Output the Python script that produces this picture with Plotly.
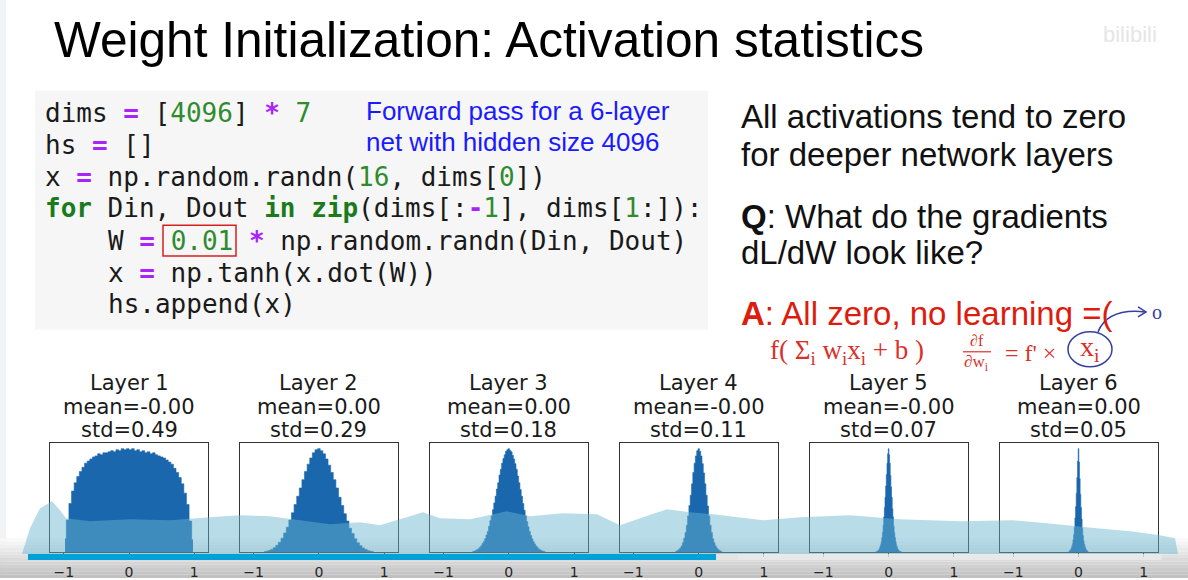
import plotly.graph_objects as go

W_PX, H_PX = 1188, 580

# ---------------- data ----------------
layer_names = ["Layer 1", "Layer 2", "Layer 3", "Layer 4", "Layer 5", "Layer 6"]
layer_means = ["-0.00", "0.00", "0.00", "-0.00", "-0.00", "0.00"]
layer_stds = ["0.49", "0.29", "0.18", "0.11", "0.07", "0.05"]
tick_vals = [-1, 0, 1]
tick_text = ["\u22121", "0", "1"]

# histogram bin centres / heights (relative, tallest bin = 100)
l1_centers = [round(-0.98 + 0.04 * i, 2) for i in range(50)]
l1_heights = [13, 31, 47, 59, 67, 73, 78, 82, 86, 88, 90, 92, 93, 95, 94, 96, 96, 97, 98, 97,
              99, 98, 100, 99, 100, 99, 100, 98, 99, 97, 98, 96, 97, 95, 96, 94, 93, 92, 91, 89,
              87, 85, 81, 77, 72, 66, 57, 46, 30, 12]

l2_centers = [round(-0.84 + 0.04 * i, 2) for i in range(43)]
l2_heights = [0.3, 0.8, 1.5, 2.6, 4.2, 6.5, 9.5, 13.5, 18.5, 24, 31, 38, 46, 54, 62, 70, 78, 85,
              91, 96, 99, 100, 98, 95, 90, 84, 77, 70, 62, 53, 45, 37, 30, 23, 18, 13, 9, 6.2,
              4, 2.5, 1.4, 0.7, 0.3]

l3_centers = [round(-0.56 + 0.02 * i, 2) for i in range(57)]
l3_heights = [0.3, 0.6, 1.1, 1.7, 2.4, 3.3, 4.6, 6.1, 8.2, 10.3, 13, 16.5, 20, 25, 30.5, 35, 41,
              47.5, 54, 61, 67, 74.5, 80, 86, 90.5, 94, 97.5, 99, 100, 98.5, 97, 93.5, 90, 85.5,
              80, 73.5, 67, 60.5, 54, 47, 40.5, 35, 29.5, 24.5, 20, 16, 12.8, 10, 7.9, 5.9, 4.4,
              3.1, 2.2, 1.5, 1.0, 0.6, 0.3]

l4_centers = [round(-0.36 + 0.02 * i, 2) for i in range(37)]
l4_heights = [0.4, 0.8, 1.5, 2.5, 4, 6, 9, 13.5, 19, 26, 35, 45, 55, 66, 77, 86, 93, 98, 100,
              97.5, 93, 85.5, 76.5, 66, 55, 44.5, 35, 26, 19, 13, 9, 6, 3.9, 2.4, 1.5, 0.8, 0.4]

l5_centers = [round(-0.20 + 0.01 * i, 2) for i in range(41)]
l5_heights = [0.2, 0.3, 0.5, 0.8, 1.3, 2, 3.2, 5, 7, 10, 14, 19, 26, 34, 43, 53, 64, 75, 86, 95,
              100, 94, 86, 74, 63, 53, 42, 34, 25, 19, 14, 10, 7, 5, 3.1, 2, 1.3, 0.8, 0.5, 0.3, 0.2]

l6_centers = [round(-0.15 + 0.01 * i, 2) for i in range(31)]
l6_heights = [0.4, 0.8, 1.4, 2.3, 3.6, 5.5, 8, 12, 17, 24, 33, 44, 57, 72, 88, 100, 87, 71, 56,
              43, 32, 23, 16, 11, 7.8, 5.3, 3.5, 2.2, 1.3, 0.8, 0.4]

hist_centers = [l1_centers, l2_centers, l3_centers, l4_centers, l5_centers, l6_centers]
hist_heights = [l1_heights, l2_heights, l3_heights, l4_heights, l5_heights, l6_heights]

# ---------------- helpers ----------------
def px(x):
    return x / W_PX


def py(y):
    return 1 - y / H_PX


BAR_COLOR = "#1a67ad"
panel_lefts = [50, 239.9, 429.8, 619.7, 809.6, 999.5]
panel_w = 158
box_top, box_bot = 445, 554

fig = go.Figure()
layout = dict(
    width=W_PX, height=H_PX,
    margin=dict(l=0, r=0, t=0, b=0),
    paper_bgcolor="white",
    plot_bgcolor="rgba(0,0,0,0)",
    showlegend=False,
)

for i in range(6):
    n = "" if i == 0 else str(i + 1)
    # step-filled histogram (each centre is the middle of a flat bin top)
    fig.add_trace(go.Scatter(
        x=hist_centers[i], y=hist_heights[i], mode="lines", line_shape="hvh",
        fill="tozeroy", fillcolor=BAR_COLOR, line=dict(color=BAR_COLOR, width=0.6),
        xaxis="x" + n, yaxis="y" + n, hoverinfo="skip",
    ))
    layout["xaxis" + n] = dict(
        domain=[px(panel_lefts[i]), px(panel_lefts[i] + panel_w)],
        anchor="y" + n, range=[-1.21, 1.21],
        tickvals=tick_vals, ticktext=tick_text, ticks="outside", ticklen=4,
        tickcolor="#333", tickwidth=1, ticklabelstandoff=3,
        tickfont=dict(family="DejaVu Sans", size=14, color="#262626"),
        showline=True, linecolor="#333", linewidth=1, mirror=True,
        showgrid=False, zeroline=False, fixedrange=True,
    )
    layout["yaxis" + n] = dict(
        domain=[py(box_bot), py(box_top)], anchor="x" + n, range=[0, 105],
        showticklabels=False, ticks="", showline=True, linecolor="#333",
        linewidth=1, mirror=True, showgrid=False, zeroline=False, fixedrange=True,
    )

annotations = []


def txt(x, y, text, size, color="#111", family="Liberation Sans", xanchor="left"):
    annotations.append(dict(
        x=px(x), y=py(y), xref="paper", yref="paper", text=text, showarrow=False,
        xanchor=xanchor, yanchor="middle", align="left",
        font=dict(family=family, size=size, color=color),
    ))


# panel titles
for i in range(6):
    cx = panel_lefts[i] + panel_w / 2
    txt(cx, 384, layer_names[i], 21, "#1a1a1a", "DejaVu Sans", "center")
    txt(cx, 408, "mean=" + layer_means[i], 21, "#1a1a1a", "DejaVu Sans", "center")
    txt(cx, 431, "std=" + layer_stds[i], 21, "#1a1a1a", "DejaVu Sans", "center")

# slide title
txt(52, 40, "Weight Initialization: Activation statistics", 49.6, "#000")

# code block
P = lambda s: '<span style="color:#aa22ff"><b>%s</b></span>' % s
G = lambda s: '<span style="color:#2e8b2e">%s</span>' % s
K = lambda s: '<span style="color:#1b7a1b"><b>%s</b></span>' % s
code_lines = [
    (0, "dims " + P("=") + " [" + G("4096") + "] " + P("*") + " " + G("7")),
    (0, "hs " + P("=") + " []"),
    (0, "x " + P("=") + " np.random.randn(" + G("16") + ", dims[" + G("0") + "])"),
    (0, K("for") + " Din, Dout " + K("in") + " " + K("zip") + "(dims[:" + P("-") + G("1")
        + "], dims[" + G("1") + ":]):"),
    (1, "W " + P("=") + " " + G("0.01") + " " + P("*") + " np.random.randn(Din, Dout)"),
    (1, "x " + P("=") + " np.tanh(x.dot(W))"),
    (1, "hs.append(x)"),
]
code_y = [113, 145, 178, 209, 242, 274, 305]
CW = 0.602 * 26
for (ind, line), yy in zip(code_lines, code_y):
    txt(43 + ind * 4 * CW, yy, line, 26, "#1a1a1a", "DejaVu Sans Mono")

txt(364, 111, "Forward pass for a 6-layer", 26, "#1a1aff")
txt(364, 142, "net with hidden size 4096", 26, "#1a1aff")

# right column text
txt(739, 117, "All activations tend to zero", 33, "#111")
txt(739, 155, "for deeper network layers", 33, "#111")
txt(739, 217, "<b>Q</b>: What do the gradients", 33, "#111")
txt(739, 253, "dL/dW look like?", 33, "#111")
txt(739, 315, "<b>A</b>: All zero, no learning =(", 33, "#dd1c0e")

# handwritten notes
HR = "#d9302a"
txt(847, 353, "f( Σ<sub>i</sub> w<sub>i</sub>x<sub>i</sub> + b )", 27, HR, "Liberation Serif", "center")
txt(977, 342, "∂f", 16, HR, "Liberation Serif", "center")
txt(977, 364, "∂w<sub>i</sub>", 17, HR, "Liberation Serif", "center")
txt(1030, 354, "= f' ×", 24, HR, "Liberation Serif", "center")
txt(1090, 350, "x<sub>i</sub>", 28, HR, "Liberation Serif", "center")
txt(1157, 313, "o", 20, "#3340a0", "Liberation Serif", "center")

# faint watermark
txt(1130, 35, "bilibili", 22, "#e6e6e6", "Liberation Sans", "center")

layout["annotations"] = annotations

shapes = []
# slide edge
shapes.append(dict(type="rect", xref="paper", yref="paper", x0=0, x1=px(6), y0=0, y1=1,
                   fillcolor="#f1f3f5", line=dict(width=0), layer="below"))
# code background
shapes.append(dict(type="rect", xref="paper", yref="paper", x0=px(35), x1=px(708),
                   y0=py(331), y1=py(91), fillcolor="#f6f6f6", line=dict(width=0), layer="below"))
# red box around 0.01
shapes.append(dict(type="rect", xref="paper", yref="paper", x0=px(163), x1=px(236),
                   y0=py(257), y1=py(226), line=dict(color="#d62020", width=1.5)))
# fraction bar
shapes.append(dict(type="line", xref="paper", yref="paper", x0=px(963), x1=px(991),
                   y0=py(353), y1=py(353), line=dict(color=HR, width=1.2)))
# blue circle + arrow
shapes.append(dict(type="circle", xref="paper", yref="paper", x0=px(1068), x1=px(1112),
                   y0=py(368), y1=py(333), line=dict(color="#3340a0", width=1.5)))
arrow_path = "M %f %f Q %f %f %f %f" % (px(1098), py(333), px(1108), py(309), px(1145), py(313))
shapes.append(dict(type="path", xref="paper", yref="paper", path=arrow_path,
                   line=dict(color="#3340a0", width=1.5)))
head = "M %f %f L %f %f L %f %f" % (px(1138), py(308), px(1146), py(313), px(1138), py(318))
shapes.append(dict(type="path", xref="paper", yref="paper", path=head,
                   line=dict(color="#3340a0", width=1.5)))

# video-player bottom gradient (screenshot overlay)
n_band = 12
for k in range(n_band):
    y0 = 540 + k * (40 / n_band)
    g = int(255 - 62 * (k + 1) / n_band)
    shapes.append(dict(type="rect", xref="paper", yref="paper", x0=0, x1=1,
                       y0=py(y0 + 40 / n_band), y1=py(y0),
                       fillcolor="rgb(%d,%d,%d)" % (g, g, g), line=dict(width=0), layer="below"))

# translucent wave overlay of the player
wave_pts = [(22, 556), (30, 530), (40, 510), (52, 503), (60, 512), (66, 520), (90, 523),
            (130, 521), (170, 522), (210, 519), (240, 517), (270, 518), (300, 522), (330, 526),
            (360, 524), (380, 527), (410, 518), (423, 514), (440, 520), (470, 521), (507, 513),
            (530, 518), (563, 515), (597, 516), (620, 527), (640, 520), (667, 511), (690, 514),
            (713, 516), (763, 522), (800, 519), (850, 517), (900, 521), (960, 523), (1013, 522),
            (1047, 525), (1097, 530), (1130, 533), (1160, 537), (1175, 540), (1178, 556)]
wpath = "M " + " L ".join("%f %f" % (px(a), py(b)) for a, b in wave_pts) + " Z"
shapes.append(dict(type="path", xref="paper", yref="paper", path=wpath,
                   fillcolor="rgba(104,183,208,0.47)", line=dict(width=0), layer="above"))

# progress bar
shapes.append(dict(type="rect", xref="paper", yref="paper", x0=px(28), x1=px(1162),
                   y0=py(562), y1=py(556), fillcolor="rgba(235,235,235,0.8)", line=dict(width=0)))
shapes.append(dict(type="rect", xref="paper", yref="paper", x0=px(716), x1=px(738),
                   y0=py(562), y1=py(556), fillcolor="#e4e4e4", line=dict(width=0)))
shapes.append(dict(type="rect", xref="paper", yref="paper", x0=px(28), x1=px(716),
                   y0=py(562), y1=py(556), fillcolor="#00a1d6", line=dict(width=0)))

layout["shapes"] = shapes
fig.update_layout(**layout)
fig.write_html(
    "out.html",
    config={"displayModeBar": False},
    post_script="document.body.style.margin='0px';document.body.style.overflow='hidden';",
)
